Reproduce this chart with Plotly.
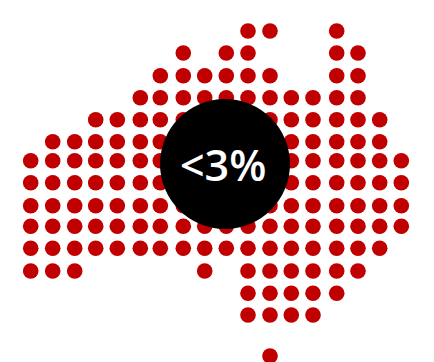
import plotly.graph_objects as go

# Dot-map grid of Australia: column longitudes and row latitudes
column_lons = [113.07, 115.27, 117.47, 119.57, 121.73, 124.03, 126.03, 128.33, 130.47,
               132.63, 134.8, 137.0, 139.13, 141.3, 143.67, 145.8, 147.97, 150.13]
row_lats = [-11.1, -13.3, -15.57, -17.77, -19.97, -22.17, -24.07, -26.27, -28.57,
            -30.63, -32.83, -35.1, -37.33, -39.5, -43.6]

# Column indices filled in each row, north to south
row_columns = [
    [10, 11, 14],
    [7, 9, 10, 14, 15],
    [6, 7, 8, 9, 10, 11, 14, 15],
    list(range(5, 16)),
    list(range(3, 17)),
    list(range(1, 17)),
    list(range(0, 18)),
    list(range(0, 18)),
    list(range(0, 18)),
    list(range(0, 18)),
    list(range(0, 17)),
    [0, 1, 2, 8, 10, 11, 12, 13, 14, 15],
    [10, 11, 12, 13, 14],
    [10, 11, 12, 13],
    [11],
]

callout_text = "<3%"
callout_lon = [132.5]
callout_lat = [-24.4]

dot_lons = [column_lons[c] for cols in row_columns for c in cols]
dot_lats = [lat for lat, cols in zip(row_lats, row_columns) for _ in cols]

fig = go.Figure()
fig.add_trace(go.Scatter(
    x=dot_lons, y=dot_lats, mode="markers",
    marker=dict(size=15.6, color="#c00000", line=dict(width=0)),
    hoverinfo="skip",
))
fig.add_trace(go.Scatter(
    x=callout_lon, y=callout_lat, mode="markers",
    marker=dict(size=130, color="#000000", line=dict(width=0)),
    hoverinfo="skip",
))
# Label sits slightly left of the disc centre to balance the wide percent sign
fig.add_annotation(
    x=callout_lon[0], y=callout_lat[0], text=callout_text.replace("<", "&lt;"),
    showarrow=False, xshift=-2, yshift=0,
    font=dict(family="Open Sans", size=43, color="#ffffff", weight=600),
)
fig.update_layout(
    width=434, height=362,
    margin=dict(l=0, r=0, t=0, b=0),
    paper_bgcolor="#ffffff", plot_bgcolor="#ffffff",
    showlegend=False,
    xaxis=dict(range=[110, 153.4], visible=False, fixedrange=True),
    yaxis=dict(range=[-44.2, -8], visible=False, fixedrange=True),
)
fig.write_html("out.html", config={"displayModeBar": False})
